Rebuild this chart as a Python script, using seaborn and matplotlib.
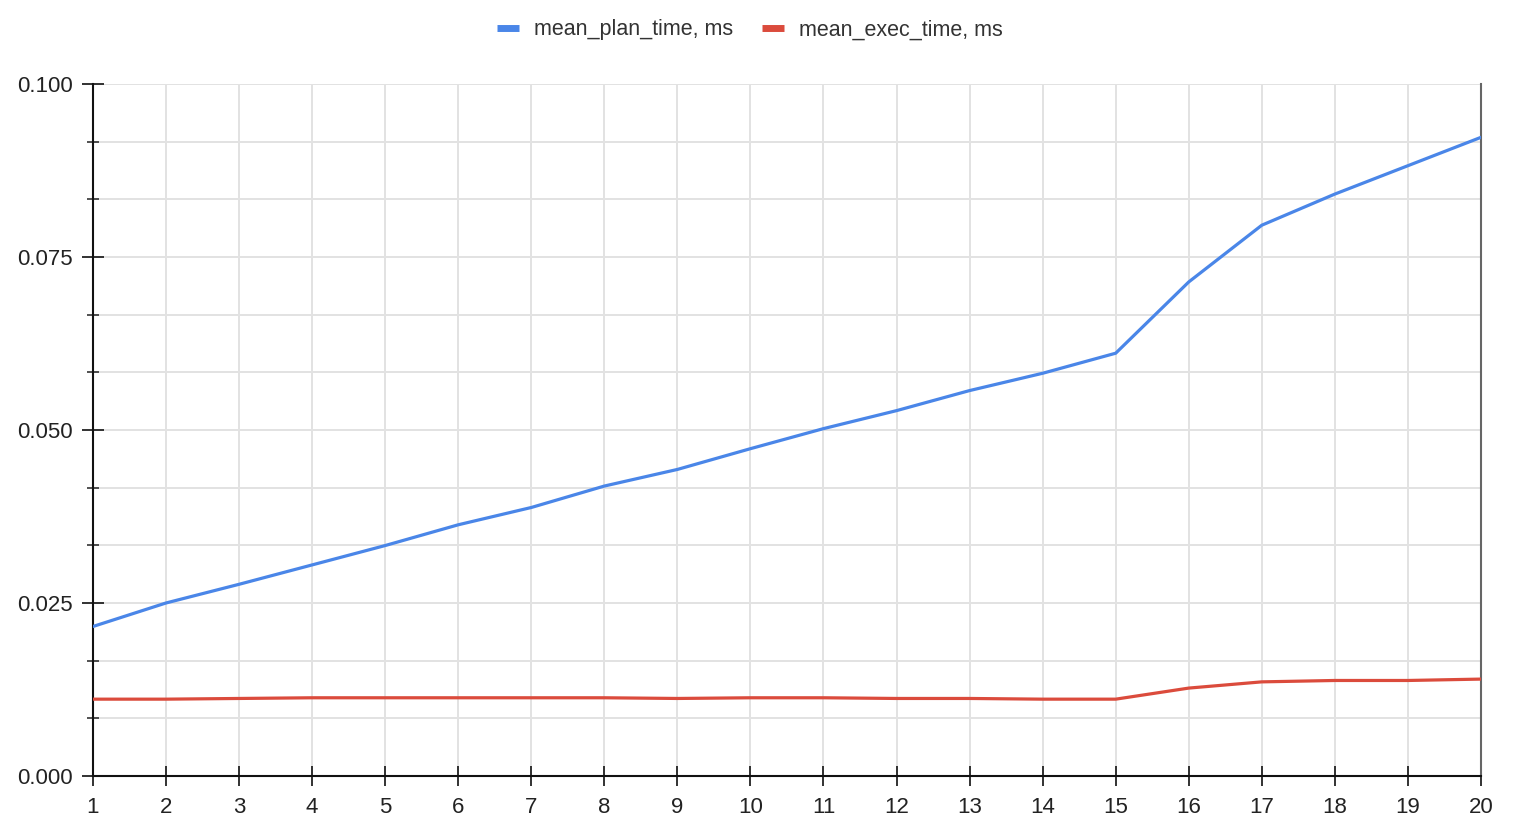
import numpy as np
import pandas as pd
import matplotlib
matplotlib.use("Agg")
import matplotlib.pyplot as plt
from matplotlib.ticker import MultipleLocator, FormatStrFormatter
from matplotlib.lines import Line2D
import seaborn as sns

# Data
runs = list(range(1, 21))
plan_time = [0.0216, 0.0250, 0.0277, 0.0305, 0.0333, 0.0363, 0.0388, 0.0419, 0.0443, 0.0473,
             0.0502, 0.0528, 0.0557, 0.0582, 0.0611, 0.0714, 0.0796, 0.0841, 0.0882, 0.0923]
exec_time = [0.0111, 0.0111, 0.0112, 0.0113, 0.0113, 0.0113, 0.0113, 0.0113, 0.0112, 0.0113,
             0.0113, 0.0112, 0.0112, 0.0111, 0.0111, 0.0127, 0.0136, 0.0138, 0.0138, 0.0140]
series_names = ["mean_plan_time, ms", "mean_exec_time, ms"]
colors = ["#4a86e8", "#db4b3c"]

df = pd.DataFrame({
    "run": runs * 2,
    "value": plan_time + exec_time,
    "series": [series_names[0]] * len(runs) + [series_names[1]] * len(runs),
})

sns.set_style("white")
plt.rcParams["font.family"] = ["Liberation Sans", "DejaVu Sans"]

fig = plt.figure(figsize=(15.26, 8.24), dpi=100)
ax = fig.add_axes([0.0609, 0.0583, 0.9096, 0.8397])

sns.lineplot(data=df, x="run", y="value", hue="series", palette=colors,
             linewidth=2.3, ax=ax, legend=False, zorder=3)

ax.set_xlim(1, 20)
ax.set_ylim(0, 0.1)
ax.set_xlabel("")
ax.set_ylabel("")

ax.xaxis.set_major_locator(MultipleLocator(1))
ax.yaxis.set_major_locator(MultipleLocator(0.025))
ax.yaxis.set_minor_locator(MultipleLocator(0.025 / 3))
ax.yaxis.set_major_formatter(FormatStrFormatter("%.3f"))

ax.grid(True, which="both", color="#e2e2e2", linewidth=1.4, zorder=0)
ax.set_axisbelow(True)

ax.tick_params(axis="x", which="major", bottom=True, direction="inout", length=14, width=1.3,
               color="#222222", labelsize=16, labelcolor="#222222", pad=8)
ax.tick_params(axis="y", which="major", left=True, direction="inout", length=16, width=1.3,
               color="#222222", labelsize=16, labelcolor="#222222", pad=6.5)
ax.tick_params(axis="y", which="minor", left=True, direction="inout", length=8, width=1.1,
               color="#222222")

for side in ["left", "bottom"]:
    ax.spines[side].set_color("#111111")
    ax.spines[side].set_linewidth(1.5)
ax.spines["right"].set_color("#666666")
ax.spines["right"].set_linewidth(1.5)
ax.spines["top"].set_visible(False)

handles = [Line2D([0], [0], color=c, linewidth=5, solid_capstyle="butt") for c in colors]
fig.legend(handles, series_names, loc="center", bbox_to_anchor=(0.4915, 0.9636),
           ncol=2, frameon=False, fontsize=15.5, handlelength=1.0,
           handletextpad=0.7, columnspacing=1.35, labelcolor="#333333")

fig.savefig("out.png", dpi=100, facecolor="white")
